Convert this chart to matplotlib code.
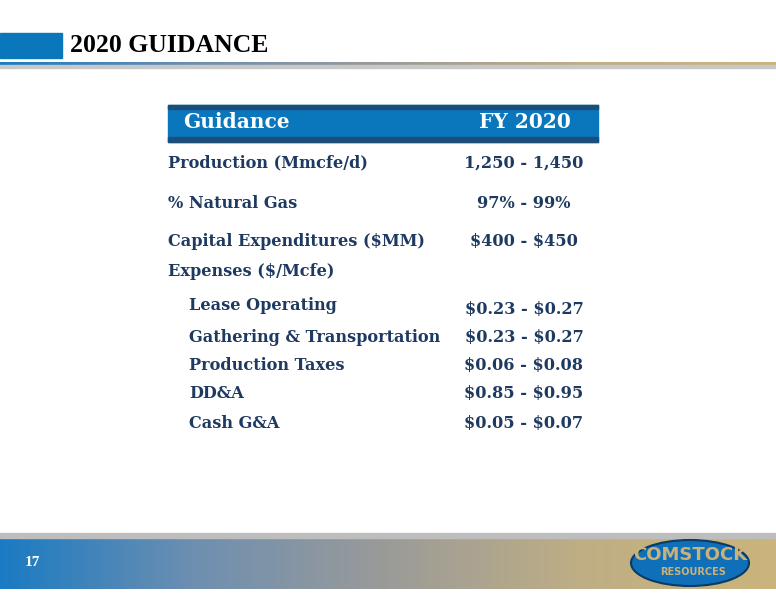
"""Recreate the 2020 guidance slide as out.png."""
import matplotlib.pyplot as plt
import numpy as np
from matplotlib.colors import LinearSegmentedColormap
from matplotlib.patches import Ellipse, Rectangle

plt.rcParams["text.parse_math"] = False

labels = ["Production (Mmcfe/d)", "% Natural Gas", "Capital Expenditures ($MM)",
          "Expenses ($/Mcfe)", "Lease Operating", "Gathering & Transportation",
          "Production Taxes", "DD&A", "Cash G&A"]
values = ["1,250 - 1,450", "97% - 99%", "$400 - $450", "",
          "$0.23 - $0.27", "$0.23 - $0.27", "$0.06 - $0.08", "$0.85 - $0.95", "$0.05 - $0.07"]
indented = [False, False, False, False, True, True, True, True, True]
label_y = [163, 203, 241, 272, 305, 337, 366, 394, 423]
value_y = [163, 203, 241, 272, 310, 337, 366, 394, 423]

NAVY = "#1f3a60"
band = LinearSegmentedColormap.from_list("band", ["#1a7bc4", "#6e8fb0", "#9b9b98", "#bfae85", "#cbb47c"])

fig = plt.figure(figsize=(7.76, 6.0), dpi=100)
ax = fig.add_axes([0, 0, 1, 1])
ax.set_xlim(0, 776)
ax.set_ylim(600, 0)
ax.axis("off")

grad = np.linspace(0, 1, 256).reshape(1, -1)

# title bar
ax.add_patch(Rectangle((0, 33), 62, 25, color="#0a77bd"))
ax.text(70, 45, "2020 GUIDANCE", fontsize=18.5, fontweight="bold", family="Liberation Serif",
        va="center", color="black")
ax.imshow(grad, cmap=band, extent=(0, 776, 65, 62), aspect="auto")
ax.add_patch(Rectangle((0, 65), 776, 3, color="#c8c8c8"))

# table header
ax.add_patch(Rectangle((168, 105), 430, 37, color="#0a77bd"))
ax.add_patch(Rectangle((168, 105), 430, 4, color="#1b4f7a"))
ax.add_patch(Rectangle((168, 137), 430, 5, color="#1b4f7a"))
ax.text(183, 122, "Guidance", fontsize=14.5, fontweight="bold", family="DejaVu Serif",
        color="white", va="center")
ax.text(571, 122, "FY 2020", fontsize=14.5, fontweight="bold", family="DejaVu Serif",
        color="white", va="center", ha="right")

for lab, val, ind, ly, vy in zip(labels, values, indented, label_y, value_y):
    ax.text(189 if ind else 168, ly, lab, fontsize=11.6, fontweight="bold",
            family="DejaVu Serif", color=NAVY, va="center")
    if val:
        ax.text(524, vy, val, fontsize=11.6, fontweight="bold", family="DejaVu Serif",
                color=NAVY, va="center", ha="center")

# footer band
ax.add_patch(Rectangle((0, 533), 776, 5, color="#bdbdbd"))
ax.imshow(grad, cmap=band, extent=(0, 776, 589, 538), aspect="auto")
ax.text(25, 563, "17", fontsize=11, fontweight="bold", family="Liberation Serif",
        color="white", va="center")

# logo
ax.add_patch(Ellipse((690, 563), 118, 46, facecolor="#0f6fb8", edgecolor="#0a3a66", linewidth=1.5))
ax.text(690, 555, "COMSTOCK", fontsize=13, fontweight="bold", family="Liberation Sans Narrow",
        color="#c9b27a", ha="center", va="center")
ax.text(693, 572, "RESOURCES", fontsize=7, fontweight="bold", family="Liberation Sans Narrow",
        color="#c9b27a", ha="center", va="center")

fig.savefig("out.png", dpi=100)
